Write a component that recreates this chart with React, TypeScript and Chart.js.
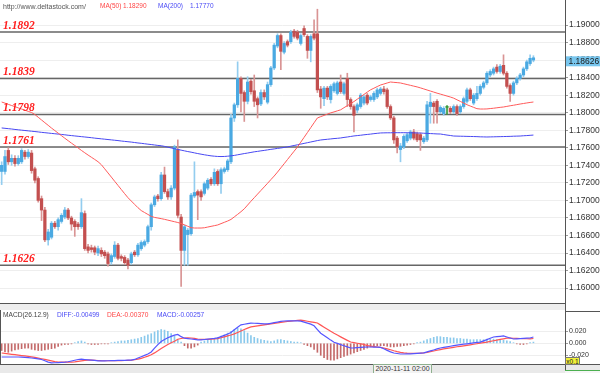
import React, { useEffect, useRef } from "react";
import { Chart, registerables } from "chart.js";
Chart.register(...registerables);

const SLOTS = 170;
const LAST_PRICE = 1.18626;
const LEVELS = [1.1892, 1.1839, 1.1798, 1.1761, 1.1626];
const PRICE_TICKS = [1.16, 1.162, 1.164, 1.166, 1.168, 1.17, 1.172, 1.174, 1.176, 1.178, 1.18, 1.182, 1.184, 1.186, 1.188, 1.19];
const MACD_TICKS = [-0.02, 0, 0.02];

const OPEN = [
  1.1733,1.1733,1.1757,1.1744,1.1748,1.1742,1.1744,1.1755,1.1750,1.1754,
  1.1736,1.1725,1.1702,1.1689,1.1655,1.1658,1.1674,1.1670,1.1676,1.1681,
  1.1689,1.1680,1.1676,1.1673,1.1670,1.1685,1.1647,1.1646,1.1646,1.1640,
  1.1643,1.1641,1.1639,1.1630,1.1636,1.1649,1.1636,1.1635,1.1632,1.1629,
  1.1641,1.1638,1.1645,1.1649,1.1653,1.1670,1.1695,1.1705,1.1702,1.1729,
  1.1710,1.1704,1.1714,1.1758,1.1681,1.1643,1.1661,1.1662,1.1705,1.1710,
  1.1710,1.1708,1.1714,1.1724,1.1719,1.1733,1.1719,1.1733,1.1735,1.1744,
  1.1794,1.1809,1.1839,1.1823,1.1813,1.1836,1.1825,1.1816,1.1810,1.1823,
  1.1812,1.1832,1.1851,1.1876,1.1888,1.1869,1.1881,1.1881,1.1893,1.1892,
  1.1879,1.1896,1.1887,1.1871,1.1890,1.1890,1.1827,1.1816,1.1828,1.1815,
  1.1825,1.1822,1.1835,1.1822,1.1839,1.1815,1.1807,1.1803,1.1807,1.1811,
  1.1820,1.1815,1.1815,1.1818,1.1822,1.1827,1.1826,1.1807,1.1794,1.1771,
  1.1758,1.1761,1.1768,1.1771,1.1778,1.1776,1.1775,1.1767,1.1769,1.1807,
  1.1811,1.1813,1.1801,1.1799,1.1806,1.1805,1.1801,1.1807,1.1801,1.1807,
  1.1813,1.1826,1.1811,1.1816,1.1822,1.1829,1.1834,1.1843,1.1845,1.1852,
  1.1847,1.1854,1.1845,1.1831,1.1822,1.1834,1.1839,1.1843,1.1850,1.1856,1.1860,
];
const HIGH = [
  1.1744,1.1757,1.1760,1.1752,1.1751,1.1751,1.1759,1.1757,1.1758,1.1757,
  1.1738,1.1727,1.1705,1.1692,1.1667,1.1676,1.1676,1.1680,1.1685,1.1692,
  1.1691,1.1682,1.1678,1.1675,1.1702,1.1688,1.1650,1.1649,1.1648,1.1648,
  1.1646,1.1643,1.1641,1.1639,1.1653,1.1651,1.1638,1.1637,1.1634,1.1641,
  1.1643,1.1651,1.1654,1.1655,1.1672,1.1697,1.1706,1.1707,1.1732,1.1738,
  1.1713,1.1717,1.1763,1.1769,1.1684,1.1672,1.1668,1.1708,1.1744,1.1712,
  1.1712,1.1721,1.1725,1.1726,1.1736,1.1735,1.1737,1.1738,1.1747,1.1798,
  1.1811,1.1858,1.1841,1.1825,1.1841,1.1838,1.1843,1.1818,1.1826,1.1826,
  1.1835,1.1853,1.1879,1.1890,1.1890,1.1881,1.1883,1.1894,1.1895,1.1894,
  1.1890,1.1899,1.1889,1.1889,1.1906,1.1918,1.1830,1.1830,1.1830,1.1832,
  1.1835,1.1836,1.1843,1.1835,1.1845,1.1817,1.1809,1.1811,1.1822,1.1820,
  1.1822,1.1820,1.1824,1.1828,1.1829,1.1830,1.1828,1.1809,1.1796,1.1773,
  1.1765,1.1775,1.1777,1.1780,1.1781,1.1778,1.1777,1.1773,1.1813,1.1822,
  1.1813,1.1815,1.1808,1.1807,1.1808,1.1807,1.1809,1.1809,1.1809,1.1818,
  1.1828,1.1828,1.1822,1.1830,1.1832,1.1836,1.1847,1.1849,1.1852,1.1855,
  1.1855,1.1866,1.1847,1.1833,1.1836,1.1841,1.1845,1.1852,1.1860,1.1866,1.1865,
];
const LOW = [
  1.1718,1.1730,1.1741,1.1740,1.1739,1.1740,1.1742,1.1747,1.1748,1.1731,
  1.1720,1.1698,1.1677,1.1653,1.1649,1.1656,1.1668,1.1666,1.1674,1.1679,
  1.1678,1.1666,1.1659,1.1667,1.1668,1.1643,1.1640,1.1641,1.1638,1.1637,
  1.1636,1.1634,1.1625,1.1627,1.1634,1.1632,1.1631,1.1627,1.1622,1.1627,
  1.1636,1.1636,1.1643,1.1647,1.1651,1.1666,1.1693,1.1699,1.1700,1.1708,
  1.1701,1.1701,1.1712,1.1680,1.1602,1.1626,1.1626,1.1660,1.1703,1.1678,
  1.1700,1.1706,1.1712,1.1717,1.1717,1.1717,1.1708,1.1731,1.1733,1.1742,
  1.1790,1.1806,1.1801,1.1790,1.1810,1.1821,1.1807,1.1794,1.1808,1.1815,
  1.1810,1.1830,1.1849,1.1874,1.1849,1.1867,1.1875,1.1879,1.1885,1.1883,
  1.1877,1.1887,1.1862,1.1858,1.1883,1.1823,1.1805,1.1808,1.1815,1.1811,
  1.1823,1.1820,1.1822,1.1820,1.1807,1.1804,1.1778,1.1800,1.1805,1.1809,
  1.1809,1.1813,1.1813,1.1816,1.1820,1.1821,1.1805,1.1792,1.1765,1.1754,
  1.1744,1.1759,1.1766,1.1769,1.1769,1.1767,1.1757,1.1765,1.1767,1.1788,
  1.1788,1.1788,1.1799,1.1797,1.1798,1.1799,1.1799,1.1797,1.1799,1.1805,
  1.1811,1.1814,1.1809,1.1814,1.1820,1.1827,1.1832,1.1841,1.1843,1.1845,
  1.1845,1.1843,1.1828,1.1813,1.1820,1.1832,1.1837,1.1841,1.1848,1.1854,1.1858,
];
const CLOSE = [
  1.1740,1.1750,1.1744,1.1748,1.1742,1.1748,1.1757,1.1750,1.1755,1.1734,
  1.1723,1.1700,1.1689,1.1655,1.1664,1.1674,1.1670,1.1678,1.1683,1.1689,
  1.1680,1.1673,1.1670,1.1670,1.1686,1.1645,1.1643,1.1644,1.1641,1.1645,
  1.1639,1.1637,1.1628,1.1637,1.1649,1.1634,1.1634,1.1629,1.1626,1.1639,
  1.1638,1.1649,1.1652,1.1653,1.1670,1.1695,1.1704,1.1702,1.1729,1.1710,
  1.1704,1.1714,1.1761,1.1683,1.1643,1.1670,1.1666,1.1706,1.1709,1.1706,
  1.1704,1.1719,1.1723,1.1719,1.1732,1.1719,1.1735,1.1736,1.1745,1.1794,
  1.1809,1.1839,1.1822,1.1813,1.1835,1.1824,1.1813,1.1809,1.1823,1.1818,
  1.1832,1.1851,1.1877,1.1888,1.1870,1.1879,1.1877,1.1892,1.1887,1.1885,
  1.1888,1.1889,1.1871,1.1887,1.1885,1.1826,1.1818,1.1828,1.1818,1.1830,
  1.1833,1.1834,1.1824,1.1833,1.1815,1.1807,1.1797,1.1809,1.1820,1.1818,
  1.1811,1.1818,1.1822,1.1826,1.1827,1.1824,1.1807,1.1794,1.1769,1.1761,
  1.1762,1.1773,1.1775,1.1778,1.1771,1.1769,1.1769,1.1771,1.1809,1.1812,
  1.1807,1.1801,1.1806,1.1805,1.1806,1.1801,1.1807,1.1799,1.1807,1.1816,
  1.1826,1.1816,1.1820,1.1822,1.1830,1.1834,1.1845,1.1847,1.1850,1.1847,
  1.1853,1.1845,1.1830,1.1822,1.1834,1.1839,1.1843,1.1850,1.1858,1.1862,1.18626,
];
const MA50 = [
  1.18122,1.18109,1.18095,1.18082,1.18069,1.18055,1.18042,1.18029,1.18015,1.18002,
  1.17979,1.17948,1.17917,1.17886,1.17856,1.17825,1.17796,1.17767,1.17738,1.17709,
  1.17681,1.17653,1.17626,1.17598,1.17570,1.17543,1.17517,1.17492,1.17467,1.17441,
  1.17407,1.17360,1.17313,1.17266,1.17218,1.17171,1.17124,1.17077,1.17031,1.16993,
  1.16955,1.16917,1.16884,1.16862,1.16840,1.16818,1.16806,1.16799,1.16792,1.16784,
  1.16775,1.16766,1.16757,1.16748,1.16737,1.16721,1.16705,1.16689,1.16685,1.16685,
  1.16685,1.16688,1.16696,1.16704,1.16712,1.16720,1.16735,1.16750,1.16765,1.16783,
  1.16812,1.16841,1.16871,1.16904,1.16947,1.16990,1.17031,1.17072,1.17113,1.17154,
  1.17195,1.17237,1.17278,1.17323,1.17371,1.17418,1.17466,1.17514,1.17561,1.17609,
  1.17664,1.17719,1.17774,1.17830,1.17885,1.17940,1.17955,1.17969,1.17984,1.17998,
  1.18009,1.18021,1.18033,1.18057,1.18080,1.18103,1.18127,1.18154,1.18181,1.18208,
  1.18235,1.18261,1.18279,1.18298,1.18316,1.18327,1.18339,1.18350,1.18346,1.18343,
  1.18339,1.18330,1.18321,1.18312,1.18303,1.18294,1.18283,1.18271,1.18259,1.18247,
  1.18235,1.18223,1.18212,1.18201,1.18190,1.18179,1.18166,1.18147,1.18129,1.18110,
  1.18091,1.18076,1.18061,1.18046,1.18042,1.18042,1.18043,1.18047,1.18051,1.18056,
  1.18061,1.18065,1.18072,1.18079,1.18085,1.18092,1.18099,1.18105,1.18111,1.18117,1.18122,
];
const MA200 = [
  1.17826,1.17822,1.17818,1.17814,1.17809,1.17805,1.17801,1.17797,1.17793,1.17789,
  1.17785,1.17781,1.17776,1.17772,1.17768,1.17764,1.17760,1.17756,1.17752,1.17748,
  1.17743,1.17739,1.17735,1.17731,1.17727,1.17723,1.17719,1.17715,1.17710,1.17706,
  1.17702,1.17698,1.17694,1.17690,1.17686,1.17682,1.17677,1.17673,1.17669,1.17665,
  1.17660,1.17655,1.17651,1.17646,1.17641,1.17637,1.17632,1.17627,1.17623,1.17616,
  1.17607,1.17598,1.17590,1.17581,1.17573,1.17565,1.17557,1.17550,1.17542,1.17534,
  1.17527,1.17520,1.17514,1.17508,1.17504,1.17501,1.17500,1.17501,1.17504,1.17508,
  1.17513,1.17520,1.17527,1.17534,1.17540,1.17547,1.17554,1.17559,1.17565,1.17570,
  1.17576,1.17582,1.17587,1.17593,1.17598,1.17604,1.17610,1.17618,1.17626,1.17634,
  1.17642,1.17650,1.17658,1.17666,1.17674,1.17682,1.17689,1.17693,1.17697,1.17701,
  1.17705,1.17708,1.17712,1.17718,1.17723,1.17729,1.17735,1.17739,1.17743,1.17748,
  1.17752,1.17756,1.17761,1.17765,1.17769,1.17770,1.17771,1.17771,1.17772,1.17772,
  1.17772,1.17772,1.17771,1.17771,1.17770,1.17769,1.17768,1.17766,1.17764,1.17762,
  1.17760,1.17758,1.17757,1.17751,1.17745,1.17740,1.17734,1.17733,1.17732,1.17731,
  1.17730,1.17729,1.17728,1.17727,1.17725,1.17724,1.17723,1.17724,1.17725,1.17726,
  1.17727,1.17728,1.17729,1.17730,1.17732,1.17733,1.17734,1.17737,1.17739,1.17742,1.17745,
];
const DIFF = [
  -0.0228,-0.0228,-0.0228,-0.0228,-0.0228,-0.0228,-0.0232,-0.0236,-0.0240,-0.0245,
  -0.0252,-0.0260,-0.0270,-0.0290,-0.0314,-0.0327,-0.0324,-0.0321,-0.0317,-0.0314,
  -0.0308,-0.0295,-0.0283,-0.0270,-0.0264,-0.0270,-0.0275,-0.0281,-0.0286,-0.0292,
  -0.0294,-0.0293,-0.0291,-0.0289,-0.0288,-0.0286,-0.0284,-0.0283,-0.0281,-0.0279,
  -0.0269,-0.0246,-0.0223,-0.0201,-0.0178,-0.0144,-0.0082,-0.0021,0.0031,0.0063,
  0.0092,0.0115,0.0137,0.0148,0.0111,0.0085,0.0079,0.0072,0.0066,0.0057,
  0.0057,0.0063,0.0070,0.0076,0.0082,0.0090,0.0112,0.0133,0.0155,0.0181,
  0.0225,0.0269,0.0307,0.0318,0.0329,0.0337,0.0334,0.0331,0.0328,0.0325,
  0.0323,0.0333,0.0344,0.0354,0.0365,0.0372,0.0374,0.0375,0.0375,0.0373,
  0.0370,0.0353,0.0336,0.0319,0.0292,0.0229,0.0168,0.0130,0.0091,0.0053,
  0.0018,-0.0002,-0.0021,-0.0041,-0.0060,-0.0078,-0.0076,-0.0072,-0.0068,-0.0065,
  -0.0062,-0.0062,-0.0063,-0.0065,-0.0068,-0.0090,-0.0118,-0.0142,-0.0162,-0.0170,
  -0.0178,-0.0178,-0.0177,-0.0175,-0.0172,-0.0168,-0.0164,-0.0160,-0.0144,-0.0127,
  -0.0111,-0.0094,-0.0078,-0.0068,-0.0059,-0.0049,-0.0040,-0.0030,-0.0022,-0.0015,
  -0.0008,0.0000,0.0007,0.0014,0.0021,0.0041,0.0062,0.0084,0.0105,0.0111,
  0.0116,0.0122,0.0105,0.0089,0.0072,0.0075,0.0078,0.0081,0.0085,0.0088,0.0105,
];
const DEA = [
  -0.0162,-0.0169,-0.0176,-0.0183,-0.0190,-0.0197,-0.0204,-0.0211,-0.0218,-0.0225,
  -0.0235,-0.0246,-0.0258,-0.0269,-0.0281,-0.0292,-0.0304,-0.0312,-0.0314,-0.0315,
  -0.0315,-0.0313,-0.0308,-0.0300,-0.0292,-0.0285,-0.0280,-0.0280,-0.0283,-0.0287,
  -0.0290,-0.0291,-0.0291,-0.0291,-0.0291,-0.0290,-0.0289,-0.0287,-0.0284,-0.0280,
  -0.0274,-0.0264,-0.0250,-0.0233,-0.0213,-0.0190,-0.0160,-0.0125,-0.0088,-0.0052,
  -0.0020,0.0008,0.0035,0.0068,0.0080,0.0088,0.0090,0.0088,0.0082,0.0072,
  0.0066,0.0065,0.0066,0.0070,0.0074,0.0078,0.0092,0.0108,0.0123,0.0139,
  0.0157,0.0181,0.0205,0.0229,0.0253,0.0274,0.0282,0.0291,0.0299,0.0308,
  0.0316,0.0324,0.0333,0.0341,0.0350,0.0357,0.0363,0.0370,0.0376,0.0382,
  0.0387,0.0377,0.0367,0.0358,0.0348,0.0338,0.0303,0.0269,0.0234,0.0199,
  0.0166,0.0137,0.0107,0.0078,0.0049,0.0021,0.0011,0.0001,-0.0009,-0.0019,
  -0.0040,-0.0048,-0.0055,-0.0062,-0.0068,-0.0078,-0.0092,-0.0108,-0.0124,-0.0138,
  -0.0150,-0.0158,-0.0163,-0.0166,-0.0167,-0.0166,-0.0164,-0.0158,-0.0150,-0.0140,
  -0.0128,-0.0116,-0.0104,-0.0094,-0.0085,-0.0076,-0.0067,-0.0058,-0.0050,-0.0042,
  -0.0034,-0.0025,-0.0016,-0.0007,0.0002,0.0011,0.0020,0.0031,0.0042,0.0053,
  0.0064,0.0075,0.0087,0.0086,0.0084,0.0082,0.0080,0.0078,0.0076,0.0073,0.0080,
];
const MACD_HIST = [
  -0.012,-0.014,-0.015,-0.013,-0.011,-0.010,-0.009,-0.008,-0.008,-0.010,
  -0.011,-0.012,-0.012,-0.011,-0.010,-0.009,-0.008,-0.005,-0.003,-0.002,
  -0.002,-0.001,0.001,0.003,0.004,0.002,-0.001,-0.002,-0.002,-0.002,
  -0.001,-0.001,-0.001,0.001,0.002,0.003,0.004,0.004,0.005,0.006,
  0.007,0.008,0.010,0.012,0.014,0.016,0.019,0.021,0.023,0.022,
  0.020,0.016,0.012,0.006,0.002,-0.004,-0.008,-0.008,-0.006,-0.003,
  0.002,0.004,0.005,0.007,0.008,0.010,0.012,0.014,0.017,0.020,
  0.023,0.025,0.024,0.021,0.017,0.013,0.010,0.008,0.006,0.005,
  0.004,0.003,0.004,0.006,0.006,0.005,0.004,0.003,0.002,0.002,
  0.001,-0.002,-0.004,-0.006,-0.010,-0.015,-0.020,-0.024,-0.027,-0.028,
  -0.028,-0.026,-0.024,-0.022,-0.020,-0.018,-0.016,-0.014,-0.012,-0.010,
  -0.008,-0.006,-0.005,-0.004,-0.004,-0.004,-0.005,-0.006,-0.006,-0.005,
  -0.005,-0.004,-0.003,-0.002,-0.001,0.001,0.002,0.004,0.006,0.008,
  0.010,0.011,0.011,0.010,0.010,0.009,0.009,0.008,0.008,0.007,
  0.007,0.006,0.006,0.006,0.006,0.006,0.007,0.007,0.007,0.006,
  0.006,0.005,0.004,0.003,0.001,-0.001,-0.002,-0.002,-0.001,0.001,0.002,
];

const BLUE = "#4aa9e2";
const BLUE_W = "#93cdef";
const RED = "#c34f4f";
const RED_W = "#d99494";
const GREEN = "#3a9a3a";
const AXIS_FONT = "Liberation Sans";

const fixAxis = (s: any) => {
  s.width = 35;
  s.paddingTop = 0;
  s.paddingBottom = 0;
};

const mainOverlay = {
  id: "mainOverlay",
  beforeDatasetsDraw(chart: any) {
    const { ctx, chartArea, scales } = chart;
    ctx.save();
    ctx.strokeStyle = "#666666";
    ctx.lineWidth = 1.5;
    LEVELS.forEach((v) => {
      const py = scales.y.getPixelForValue(v);
      ctx.beginPath();
      ctx.moveTo(chartArea.left, py);
      ctx.lineTo(chartArea.right, py);
      ctx.stroke();
    });
    ctx.restore();
  },
  afterDatasetsDraw(chart: any) {
    const { ctx, chartArea, scales } = chart;
    ctx.save();
    ctx.font = 'italic bold 11.5px "Liberation Serif"';
    ctx.fillStyle = "#ff1e1e";
    ctx.textBaseline = "alphabetic";
    LEVELS.forEach((v) => {
      const py = scales.y.getPixelForValue(v);
      ctx.fillText(v.toFixed(4), chartArea.left + 3, py - 3);
    });
    ctx.restore();
  },
  afterDraw(chart: any) {
    const { ctx, chartArea, scales } = chart;
    const py = scales.y.getPixelForValue(LAST_PRICE);
    ctx.save();
    ctx.fillStyle = "#78c6ee";
    ctx.fillRect(chartArea.right + 1, py - 1.5, 34, 10);
    ctx.fillStyle = "#1a1a1a";
    ctx.font = `8.5px "${AXIS_FONT}"`;
    ctx.textBaseline = "middle";
    ctx.fillText(LAST_PRICE.toFixed(5), chartArea.right + 3.5, py + 3.5);
    ctx.restore();
  },
};

export default function App() {
  const mainRef = useRef<HTMLCanvasElement>(null);
  const macdRef = useRef<HTMLCanvasElement>(null);

  useEffect(() => {
    const labels = Array.from({ length: SLOTS }, (_, i) => String(i));
    const bodyData = OPEN.map((o, i) => [o, CLOSE[i]]);
    const wickData = LOW.map((l, i) => [l, HIGH[i]]);
    const dir = OPEN.map((o, i) => (CLOSE[i] > o ? 1 : CLOSE[i] < o ? -1 : 0));
    const bodyColors = dir.map((d) => (d > 0 ? BLUE : d < 0 ? RED : GREEN));
    const wickColors = dir.map((d) => (d > 0 ? BLUE_W : d < 0 ? RED_W : GREEN));
    const histColors = MACD_HIST.map((v) => (v >= 0 ? "#8ac9ec" : "#c46a6a"));

    const main = new Chart(mainRef.current as HTMLCanvasElement, {
      type: "bar",
      data: {
        labels,
        datasets: [
          { type: "line", label: "MA50", data: MA50, borderColor: "#ff5a5a", borderWidth: 1, pointRadius: 0, order: 0 } as any,
          { type: "line", label: "MA200", data: MA200, borderColor: "#4848f2", borderWidth: 1, pointRadius: 0, order: 0 } as any,
          { type: "bar", label: "body", data: bodyData, backgroundColor: bodyColors, barThickness: 2.6, grouped: false, minBarLength: 1, borderWidth: 0, order: 1 } as any,
          { type: "bar", label: "wick", data: wickData, backgroundColor: wickColors, barThickness: 1, grouped: false, borderWidth: 0, order: 2 } as any,
        ],
      },
      options: {
        animation: false,
        responsive: false,
        events: [],
        layout: { padding: 0 },
        plugins: { legend: { display: false }, tooltip: { enabled: false } },
        scales: {
          x: { display: false, offset: true, grid: { display: false } },
          y: {
            position: "right",
            min: 1.19 - 279 / 8770,
            max: 1.19 + 25 / 8770,
            afterBuildTicks: (s: any) => {
              s.ticks = PRICE_TICKS.map((v) => ({ value: v }));
            },
            afterFit: fixAxis,
            ticks: {
              callback: (v: any) => Number(v).toFixed(5),
              font: { family: AXIS_FONT, size: 8.5 },
              color: "#333",
              padding: 1,
            },
            grid: { color: "#eeeeee", tickColor: "#999", tickLength: 3 },
            border: { display: false },
          },
        },
      } as any,
      plugins: [mainOverlay],
    });

    const macd = new Chart(macdRef.current as HTMLCanvasElement, {
      type: "bar",
      data: {
        labels,
        datasets: [
          { type: "line", label: "DIFF", data: DIFF, borderColor: "#5555ff", borderWidth: 1.2, pointRadius: 0, order: 0 } as any,
          { type: "line", label: "DEA", data: DEA, borderColor: "#ff5555", borderWidth: 1.2, pointRadius: 0, order: 0 } as any,
          { type: "bar", label: "MACD", data: MACD_HIST, backgroundColor: histColors, barThickness: 1, borderWidth: 0, order: 1 } as any,
        ],
      },
      options: {
        animation: false,
        responsive: false,
        events: [],
        layout: { padding: 0 },
        plugins: { legend: { display: false }, tooltip: { enabled: false } },
        scales: {
          x: { display: false, offset: true, grid: { display: false } },
          y: {
            position: "right",
            min: (343.3 - 364) / 600,
            max: (343.3 - 310) / 600,
            afterBuildTicks: (s: any) => {
              s.ticks = MACD_TICKS.map((v) => ({ value: v }));
            },
            afterFit: fixAxis,
            ticks: {
              callback: (v: any) => Number(v).toFixed(3),
              font: { family: AXIS_FONT, size: 7 },
              color: "#333",
              padding: 1,
            },
            grid: { color: "#eeeeee", tickColor: "#999", tickLength: 3 },
            border: { display: false },
          },
        },
      } as any,
    });

    return () => {
      main.destroy();
      macd.destroy();
    };
  }, []);

  const txt = (left: number, top: number, color: string, size: number, text: string) => (
    <span
      style={{
        position: "absolute",
        left,
        top,
        color,
        fontSize: size,
        fontFamily: AXIS_FONT,
        lineHeight: 1,
        whiteSpace: "nowrap",
      }}
    >
      {text}
    </span>
  );

  return (
    <div
      style={{
        position: "fixed",
        left: 0,
        top: 0,
        width: 600,
        height: 373,
        background: "#fff",
        overflow: "hidden",
      }}
    >
      <canvas ref={mainRef} width={600} height={304} style={{ position: "absolute", left: 0, top: 0 }} />
      <div style={{ position: "absolute", left: 0, top: 303, width: 565, height: 7, background: "#eeeeee", borderTop: "1px solid #555", boxSizing: "border-box" }} />
      <canvas ref={macdRef} width={600} height={54} style={{ position: "absolute", left: 0, top: 310 }} />
      <div style={{ position: "absolute", left: 0, top: 310, width: 1, height: 54, background: "#555" }} />
      <div style={{ position: "absolute", left: 565, top: 311, width: 35, height: 1, background: "#555" }} />
      <div style={{ position: "absolute", left: 0, top: 364, width: 600, height: 9, background: "#e9e9e9", borderTop: "1px solid #555", boxSizing: "border-box" }} />
      <div style={{ position: "absolute", left: 565, top: 0, width: 1, height: 373, background: "#555" }} />

      {txt(3, 3, "#555", 7, "http://www.deltastock.com/")}
      {txt(100, 3, "#ff4545", 6.5, "MA(50)")}
      {txt(123, 3, "#ff4545", 6.5, "1.18290")}
      {txt(158, 3, "#4a4af5", 6.5, "MA(200)")}
      {txt(190, 3, "#4a4af5", 6.5, "1.17770")}

      {txt(3, 312, "#444", 6.6, "MACD(26.12.9)")}
      {txt(57, 312, "#4a4af5", 6.6, "DIFF:-0.00499")}
      {txt(107, 312, "#ff4545", 6.6, "DEA:-0.00370")}
      {txt(157, 312, "#4a4af5", 6.6, "MACD:-0.00257")}

      <div
        style={{
          position: "absolute",
          left: 565,
          top: 357,
          width: 15,
          height: 8,
          background: "#f2f23a",
          border: "1px solid #777",
          boxSizing: "border-box",
          fontSize: 6.5,
          fontFamily: AXIS_FONT,
          lineHeight: "7px",
          color: "#222",
          textAlign: "center",
        }}
      >
        x0.1
      </div>
      <div
        style={{
          position: "absolute",
          left: 373,
          top: 364,
          width: 59,
          height: 10,
          background: "#f3f3f3",
          border: "1px solid #8fb08f",
          boxSizing: "border-box",
          fontSize: 7,
          fontFamily: AXIS_FONT,
          lineHeight: "8px",
          color: "#333",
          textAlign: "center",
          whiteSpace: "nowrap",
        }}
      >
        2020-11-11 02:00
      </div>
      <div style={{ position: "absolute", left: 565, top: 370, width: 35, height: 3, borderTop: "1px solid #4caf50", background: "#f5f5f5", boxSizing: "border-box" }} />
    </div>
  );
}
